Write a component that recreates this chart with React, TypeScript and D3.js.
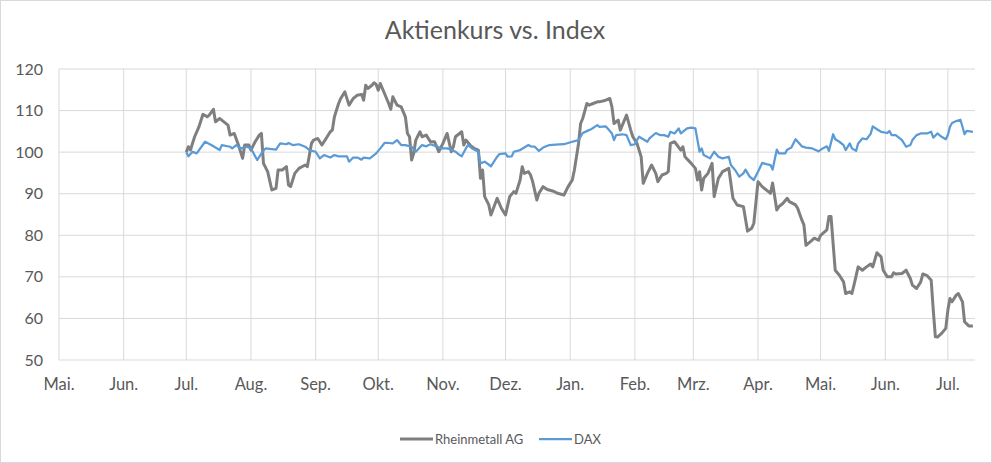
import * as d3 from "d3";

// Rheinmetall AG, indexed to 100 at start
const rheinDates = [
  "2018-07-01", "2018-07-02", "2018-07-03", "2018-07-05", "2018-07-07", "2018-07-09", "2018-07-11", "2018-07-12",
  "2018-07-14", "2018-07-15", "2018-07-17", "2018-07-18", "2018-07-21", "2018-07-22", "2018-07-24", "2018-07-26",
  "2018-07-28", "2018-07-29", "2018-07-31", "2018-08-01", "2018-08-03", "2018-08-05", "2018-08-06", "2018-08-07",
  "2018-08-09", "2018-08-11", "2018-08-13", "2018-08-14", "2018-08-16", "2018-08-18", "2018-08-19", "2018-08-20",
  "2018-08-22", "2018-08-24", "2018-08-27", "2018-08-28", "2018-08-30", "2018-08-31", "2018-09-02", "2018-09-04",
  "2018-09-06", "2018-09-08", "2018-09-09", "2018-09-10", "2018-09-12", "2018-09-13", "2018-09-15", "2018-09-17",
  "2018-09-19", "2018-09-21", "2018-09-23", "2018-09-24", "2018-09-25", "2018-09-26", "2018-09-28", "2018-09-29",
  "2018-09-30", "2018-10-01", "2018-10-02", "2018-10-04", "2018-10-06", "2018-10-07", "2018-10-08", "2018-10-10",
  "2018-10-12", "2018-10-14", "2018-10-15", "2018-10-16", "2018-10-17", "2018-10-18", "2018-10-19", "2018-10-21",
  "2018-10-22", "2018-10-24", "2018-10-26", "2018-10-28", "2018-10-30", "2018-11-01", "2018-11-03", "2018-11-05",
  "2018-11-06", "2018-11-07", "2018-11-10", "2018-11-11", "2018-11-12", "2018-11-14", "2018-11-16", "2018-11-18",
  "2018-11-19", "2018-11-20", "2018-11-21", "2018-11-23", "2018-11-24", "2018-11-27", "2018-11-29", "2018-12-01",
  "2018-12-03", "2018-12-05", "2018-12-06", "2018-12-08", "2018-12-09", "2018-12-10", "2018-12-12", "2018-12-13",
  "2018-12-14", "2018-12-16", "2018-12-17", "2018-12-19", "2018-12-21", "2018-12-24", "2018-12-26", "2018-12-29",
  "2018-12-31", "2019-01-02", "2019-01-03", "2019-01-05", "2019-01-06", "2019-01-07", "2019-01-09", "2019-01-10",
  "2019-01-12", "2019-01-14", "2019-01-15", "2019-01-18", "2019-01-20", "2019-01-21", "2019-01-22", "2019-01-24",
  "2019-01-25", "2019-01-28", "2019-01-30", "2019-01-31", "2019-02-02", "2019-02-04", "2019-02-05", "2019-02-07",
  "2019-02-09", "2019-02-11", "2019-02-12", "2019-02-14", "2019-02-16", "2019-02-17", "2019-02-18", "2019-02-20",
  "2019-02-23", "2019-02-24", "2019-02-25", "2019-02-28", "2019-03-02", "2019-03-03", "2019-03-04", "2019-03-05",
  "2019-03-06", "2019-03-08", "2019-03-10", "2019-03-11", "2019-03-13", "2019-03-15", "2019-03-18", "2019-03-20",
  "2019-03-22", "2019-03-25", "2019-03-27", "2019-03-29", "2019-03-30", "2019-04-01", "2019-04-03", "2019-04-06",
  "2019-04-07", "2019-04-08", "2019-04-10", "2019-04-11", "2019-04-13", "2019-04-15", "2019-04-16", "2019-04-19",
  "2019-04-20", "2019-04-22", "2019-04-23", "2019-04-24", "2019-04-26", "2019-04-28", "2019-04-30", "2019-05-01",
  "2019-05-04", "2019-05-05", "2019-05-06", "2019-05-08", "2019-05-10", "2019-05-12", "2019-05-13", "2019-05-15",
  "2019-05-16", "2019-05-17", "2019-05-19", "2019-05-21", "2019-05-23", "2019-05-25", "2019-05-26", "2019-05-28",
  "2019-05-30", "2019-05-31", "2019-06-02", "2019-06-04", "2019-06-05", "2019-06-06", "2019-06-09", "2019-06-11",
  "2019-06-13", "2019-06-14", "2019-06-16", "2019-06-18", "2019-06-19", "2019-06-21", "2019-06-23", "2019-06-24",
  "2019-06-25", "2019-06-26", "2019-06-28", "2019-06-30", "2019-07-01", "2019-07-02", "2019-07-03", "2019-07-05",
  "2019-07-06", "2019-07-08", "2019-07-09", "2019-07-11", "2019-07-13",
];
const rheinValues = [
  100, 101.3, 100.5, 103.7, 106, 109.1, 108.5, 108.9,
  110.3, 107.3, 108.1, 107.7, 106.5, 104.1, 104.5, 101.7,
  98.5, 101.7, 101.7, 100.5, 102.5, 104.1, 104.5, 97.3,
  95.3, 90.9, 91.3, 95.7, 95.7, 96.5, 92.1, 91.7,
  94.9, 96.1, 96.9, 96.5, 102.1, 102.9, 103.3, 101.7,
  103.3, 104.9, 105.3, 108.5, 111.7, 112.9, 114.5, 111.3,
  112.9, 113.7, 113.9, 112.5, 116.1, 115.3, 116.1, 116.7,
  116.3, 114.9, 116.5, 114.1, 111.7, 110.3, 113.3, 111.3,
  110.9, 108.5, 104.5, 103.7, 98.1, 99.7, 102.9, 104.9,
  103.7, 104.1, 102.5, 102.5, 100.1, 102.1, 104.5, 100.1,
  101.3, 103.7, 104.9, 101.7, 102.9, 101.7, 100.9, 100.5,
  93.7, 95.7, 89.3, 87.3, 84.9, 88.9, 86.5, 84.9,
  89.3, 90.5, 90.1, 93.3, 96.5, 94.9, 95.3, 94.5,
  92.9, 88.5, 90.1, 91.7, 91.0, 90.6, 90.1, 89.7,
  91.7, 93.3, 95.7, 102.1, 106.9, 108.1, 111.7, 111.3,
  111.7, 112.1, 112.1, 112.5, 112.9, 110.9, 106.9, 107.7,
  105.3, 108.9, 105.3, 103.7, 102.1, 98.9, 92.5, 94.9,
  96.9, 94.9, 92.9, 94.5, 94.9, 95.3, 102.1, 102.5,
  100.5, 101.3, 98.9, 97.3, 96.1, 93.3, 95.3, 90.9,
  93.7, 94.9, 97.3, 89.3, 93.7, 95.3, 96.1, 88.9,
  87.3, 86.9, 81.0, 81.7, 82.9, 92.9, 91.7, 90.5,
  90.1, 92.6, 86.1, 86.9, 87.7, 88.9, 88.1, 87.3,
  86.5, 83.7, 82.5, 77.6, 78.4, 79.3, 78.8, 80.0,
  81.3, 84.5, 84.5, 71.6, 70.4, 68.8, 66.0, 66.4,
  66.0, 68.0, 72.4, 71.6, 72.4, 73.1, 72.4, 75.8,
  74.8, 71.6, 70.0, 70.0, 71.0, 70.7, 70.8, 71.6,
  69.6, 68.0, 67.2, 68.8, 70.7, 70.3, 69.2, 62.0,
  55.6, 55.5, 56.4, 57.6, 62.0, 64.8, 64.0, 65.6,
  66.0, 64.0, 59.2, 58.2, 58.2,
];

// DAX, indexed to 100 at start
const daxDates = [
  "2018-07-01", "2018-07-02", "2018-07-04", "2018-07-06", "2018-07-10", "2018-07-13", "2018-07-17", "2018-07-18",
  "2018-07-22", "2018-07-23", "2018-07-25", "2018-07-27", "2018-07-30", "2018-08-01", "2018-08-04", "2018-08-06",
  "2018-08-08", "2018-08-13", "2018-08-15", "2018-08-18", "2018-08-19", "2018-08-21", "2018-08-24", "2018-08-27",
  "2018-08-29", "2018-09-01", "2018-09-03", "2018-09-05", "2018-09-08", "2018-09-10", "2018-09-12", "2018-09-16",
  "2018-09-17", "2018-09-19", "2018-09-21", "2018-09-23", "2018-09-24", "2018-09-27", "2018-09-30", "2018-10-02",
  "2018-10-04", "2018-10-06", "2018-10-08", "2018-10-10", "2018-10-12", "2018-10-14", "2018-10-17", "2018-10-19",
  "2018-10-22", "2018-10-24", "2018-10-26", "2018-10-29", "2018-10-31", "2018-11-03", "2018-11-05", "2018-11-07",
  "2018-11-09", "2018-11-10", "2018-11-12", "2018-11-13", "2018-11-15", "2018-11-18", "2018-11-19", "2018-11-21",
  "2018-11-24", "2018-11-27", "2018-11-28", "2018-12-01", "2018-12-02", "2018-12-04", "2018-12-05", "2018-12-08",
  "2018-12-10", "2018-12-12", "2018-12-13", "2018-12-15", "2018-12-17", "2018-12-19", "2018-12-22", "2018-12-25",
  "2018-12-29", "2018-12-31", "2019-01-02", "2019-01-05", "2019-01-07", "2019-01-10", "2019-01-11", "2019-01-14",
  "2019-01-15", "2019-01-18", "2019-01-19", "2019-01-21", "2019-01-22", "2019-01-23", "2019-01-26", "2019-01-28",
  "2019-01-30", "2019-02-01", "2019-02-02", "2019-02-03", "2019-02-05", "2019-02-07", "2019-02-08", "2019-02-11",
  "2019-02-13", "2019-02-15", "2019-02-17", "2019-02-18", "2019-02-20", "2019-02-22", "2019-02-23", "2019-02-26",
  "2019-02-28", "2019-03-02", "2019-03-04", "2019-03-05", "2019-03-06", "2019-03-09", "2019-03-11", "2019-03-13",
  "2019-03-15", "2019-03-18", "2019-03-19", "2019-03-21", "2019-03-23", "2019-03-25", "2019-03-26", "2019-03-28",
  "2019-03-30", "2019-04-01", "2019-04-03", "2019-04-05", "2019-04-07", "2019-04-08", "2019-04-10", "2019-04-11",
  "2019-04-14", "2019-04-15", "2019-04-17", "2019-04-19", "2019-04-22", "2019-04-24", "2019-04-27", "2019-04-30",
  "2019-05-02", "2019-05-04", "2019-05-05", "2019-05-07", "2019-05-08", "2019-05-10", "2019-05-12", "2019-05-13",
  "2019-05-15", "2019-05-16", "2019-05-18", "2019-05-19", "2019-05-21", "2019-05-23", "2019-05-25", "2019-05-26",
  "2019-05-28", "2019-05-30", "2019-06-02", "2019-06-03", "2019-06-04", "2019-06-06", "2019-06-09", "2019-06-11",
  "2019-06-13", "2019-06-14", "2019-06-16", "2019-06-18", "2019-06-21", "2019-06-23", "2019-06-24", "2019-06-26",
  "2019-06-28", "2019-06-30", "2019-07-01", "2019-07-02", "2019-07-03", "2019-07-05", "2019-07-07", "2019-07-08",
  "2019-07-09", "2019-07-10", "2019-07-13",
];
const daxValues = [
  100, 99.0, 100.1, 99.7, 102.5, 101.7, 100.5, 101.7,
  101.3, 100.9, 101.7, 100.9, 101.3, 100.9, 98.1, 99.7,
  100.9, 100.6, 102.1, 101.9, 102.2, 101.7, 101.9, 101.3,
  100.5, 100.1, 98.5, 99.3, 98.7, 99.3, 99.0, 99.0,
  97.7, 98.7, 98.7, 98.2, 98.7, 98.5, 99.7, 100.9,
  102.2, 102.2, 102.1, 102.9, 101.7, 101.7, 101.3, 100.1,
  101.7, 101.4, 101.9, 101.4, 100.9, 100.9, 100.6, 100.1,
  99.3, 99.0, 100.9, 101.7, 100.9, 100.1, 97.3, 97.7,
  96.6, 98.9, 99.5, 99.7, 98.9, 99.0, 100.1, 100.5,
  101.1, 101.7, 101.4, 101.3, 100.3, 101.1, 101.7, 101.8,
  101.9, 102.2, 102.5, 102.9, 104.6, 105.3, 105.5, 106.5,
  106.1, 106.2, 105.7, 104.5, 102.9, 104.1, 104.3, 104.1,
  101.7, 101.9, 102.9, 103.7, 103.1, 102.5, 103.3, 104.6,
  104.1, 104.1, 103.7, 104.9, 104.5, 105.7, 104.5, 105.7,
  105.9, 105.7, 100.1, 100.9, 99.3, 98.5, 100.1, 98.9,
  98.5, 98.9, 96.9, 95.7, 94.1, 94.9, 95.8, 94.1,
  93.3, 95.3, 97.4, 97.1, 96.9, 95.8, 100.6, 99.7,
  99.7, 100.6, 101.1, 103.1, 101.4, 101.1, 100.9, 100.2,
  100.9, 101.4, 100.3, 104.3, 103.1, 102.5, 101.7, 100.5,
  102.1, 100.9, 100.3, 102.1, 103.3, 103.1, 104.4, 106.2,
  105.5, 104.9, 104.6, 105.1, 104.1, 104.1, 102.9, 101.3,
  101.7, 102.9, 104.1, 104.5, 104.5, 104.9, 103.5, 104.5,
  103.7, 103.1, 104.1, 106.1, 107.0, 107.5, 107.8, 106.1,
  104.3, 105.1, 104.9,
];

const monthLabels = [
  "Mai.", "Jun.", "Jul.", "Aug.", "Sep.", "Okt.", "Nov.", "Dez.",
  "Jan.", "Feb.", "Mrz.", "Apr.", "Mai.", "Jun.", "Jul.",
];
const yTicks = [50, 60, 70, 80, 90, 100, 110, 120];
const seriesNames = ["Rheinmetall AG", "DAX"];

const W = 992;
const H = 463;
const plot = { left: 59, right: 975, top: 69, bottom: 360 };
const font = "Lato, 'Open Sans', sans-serif";
const textColor = "#595959";
const gridColor = "#d9d9d9";
const colors = ["#7f7f7f", "#5b9bd5"];

const parse = d3.timeParse("%Y-%m-%d");

export default function App() {
  const start = parse("2018-05-01")!;
  const end = parse("2019-07-14")!;

  const x = d3.scaleTime().domain([start, end]).range([plot.left, plot.right]);
  const y = d3.scaleLinear().domain([50, 120]).range([plot.bottom, plot.top]);

  const months = d3.timeMonth.range(start, end);

  const rhein = rheinDates.map((d, i) => ({ date: parse(d)!, value: rheinValues[i] }));
  const dax = daxDates.map((d, i) => ({ date: parse(d)!, value: daxValues[i] }));

  const line = d3
    .line<{ date: Date; value: number }>()
    .x((d) => x(d.date))
    .y((d) => y(d.value));

  // legend layout
  const legendY = 439;
  const legendItems = [
    { name: seriesNames[0], color: colors[0], width: 3, x0: 400 },
    { name: seriesNames[1], color: colors[1], width: 2.25, x0: 539 },
  ];

  return (
    <div>
      <style>{`body{margin:0}`}</style>
      <svg width={W} height={H} style={{ display: "block", fontFamily: font }}>
        <rect x={0.5} y={0.5} width={W - 1} height={H - 1} fill="#fff" stroke={gridColor} />

        <text x={495} y={39} textAnchor="middle" fontSize={25} fill={textColor}>
          Aktienkurs vs. Index
        </text>

        {/* horizontal gridlines + y labels */}
        {yTicks.map((t) => (
          <g key={t}>
            <line x1={plot.left} x2={plot.right} y1={y(t)} y2={y(t)} stroke={gridColor} strokeWidth={1} />
            <text x={43} y={y(t) + 5.5} textAnchor="end" fontSize={16} fill={textColor}>
              {t}
            </text>
          </g>
        ))}

        {/* vertical gridlines + month labels */}
        {months.map((m, i) => (
          <g key={i}>
            <line x1={x(m)} x2={x(m)} y1={plot.top} y2={plot.bottom} stroke={gridColor} strokeWidth={1} />
            <text x={x(m)} y={390} textAnchor="middle" fontSize={16.5} fill={textColor}>
              {monthLabels[i]}
            </text>
          </g>
        ))}

        <path d={line(rhein) ?? ""} fill="none" stroke={colors[0]} strokeWidth={3} strokeLinejoin="round" />
        <path d={line(dax) ?? ""} fill="none" stroke={colors[1]} strokeWidth={2.25} strokeLinejoin="round" />

        {legendItems.map((l) => (
          <g key={l.name}>
            <line x1={l.x0} x2={l.x0 + 33} y1={legendY} y2={legendY} stroke={l.color} strokeWidth={l.width} />
            <text x={l.x0 + 35} y={legendY + 4.5} fontSize={13} fill={textColor}>
              {l.name}
            </text>
          </g>
        ))}
      </svg>
    </div>
  );
}
